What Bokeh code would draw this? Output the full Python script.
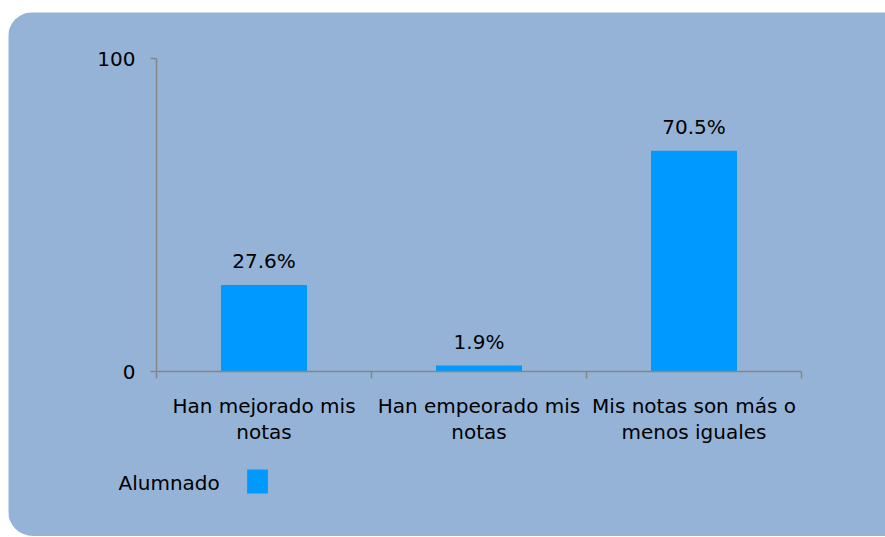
from bokeh.plotting import figure
from bokeh.models import (Range1d, FixedTicker, ColumnDataSource, LabelSet, Label,
                          Legend, LegendItem)
from bokeh.embed import file_html
from bokeh.resources import INLINE
from bokeh.core.properties import value

# ---- data ----
categories = ["Han mejorado mis\nnotas", "Han empeorado mis\nnotas", "Mis notas son más o\nmenos iguales"]
values = [27.6, 1.9, 70.5]
value_labels = ["27.6%", "1.9%", "70.5%"]
series_name = "Alumnado"
y_ticks = [0, 100]

# ---- style / layout ----
BG = "#95B3D7"
BAR = "#0099FF"
AXIS = "#868686"
FONT = "DejaVu Sans"
FS = "20px"

W, H = 877, 524                 # canvas size
AX_LEFT, AX_TOP = 148, 46       # where the axes' corner / top sit in the canvas
AX_W, AX_H = 645, 313           # axes extent in pixels

n = len(categories)
px_x = AX_W / n
px_y = AX_H / (y_ticks[-1] - y_ticks[0])
x_start = -AX_LEFT / px_x
y_end = y_ticks[-1] + AX_TOP / px_y

xs = [i + 0.5 for i in range(n)]
bounds = [float(i) for i in range(n + 1)]
src = ColumnDataSource(dict(x=xs, top=values, label=value_labels))

p = figure(width=W, height=H,
           x_range=Range1d(x_start, x_start + W / px_x),
           y_range=Range1d(y_end - H / px_y, y_end),
           output_backend="svg", toolbar_location=None,
           min_border=0,
           background_fill_color=BG, border_fill_color=BG, outline_line_color=None,
           margin=(12, 0, 0, 8),
           styles={"border-radius": "25px 0 0 25px", "overflow": "hidden"})

p.xgrid.visible = False
p.ygrid.visible = False

r = p.vbar(x="x", top="top", width=0.4, source=src, fill_color=BAR, line_color=None)

# x axis (crossing at y = 0)
xa = p.xaxis[0]
xa.fixed_location = 0
xa.bounds = (0, n)
xa.ticker = FixedTicker(ticks=xs, minor_ticks=bounds)
xa.major_label_overrides = {x: c for x, c in zip(xs, categories)}
xa.axis_line_color = AXIS
xa.axis_line_width = 1.5
xa.major_tick_out = 0
xa.major_tick_in = 0
xa.minor_tick_out = 7
xa.minor_tick_in = 0
xa.minor_tick_line_color = AXIS
xa.minor_tick_line_width = 1.5
xa.major_label_text_font = FONT
xa.major_label_text_font_size = FS
xa.major_label_text_color = "black"
xa.major_label_text_line_height = 1.1
xa.major_label_standoff = 15

# y axis (crossing at x = 0)
ya = p.yaxis[0]
ya.fixed_location = 0
ya.bounds = (y_ticks[0], y_ticks[-1])
ya.ticker = FixedTicker(ticks=y_ticks, minor_ticks=[])
ya.axis_line_color = AXIS
ya.axis_line_width = 1.5
ya.major_tick_out = 6
ya.major_tick_in = 0
ya.major_tick_line_color = AXIS
ya.major_tick_line_width = 1.5
ya.minor_tick_line_color = None
ya.major_label_text_font = FONT
ya.major_label_text_font_size = FS
ya.major_label_text_color = "black"
ya.major_label_standoff = 15

labels = LabelSet(x="x", y="top", text="label", source=src, text_align="center",
                  text_baseline="alphabetic", y_offset=17, text_font=value(FONT),
                  text_font_size=FS, text_color="black")
p.add_layout(labels)

# legend: text, then the series square to its right
p.add_layout(Label(x=110, y=54, x_units="screen", y_units="screen", text=series_name,
                   text_align="left", text_baseline="alphabetic", text_font=FONT,
                   text_font_size=FS, text_color="black"))
legend = Legend(items=[LegendItem(label=" ", renderers=[r])], location=(236, 40),
                glyph_width=26, glyph_height=30, padding=0, margin=0, spacing=0,
                border_line_color=None, background_fill_alpha=0,
                label_text_font_size="1px", label_standoff=0, label_width=0, label_height=0)
p.add_layout(legend)

open("out.html", "w").write(file_html(p, INLINE))
